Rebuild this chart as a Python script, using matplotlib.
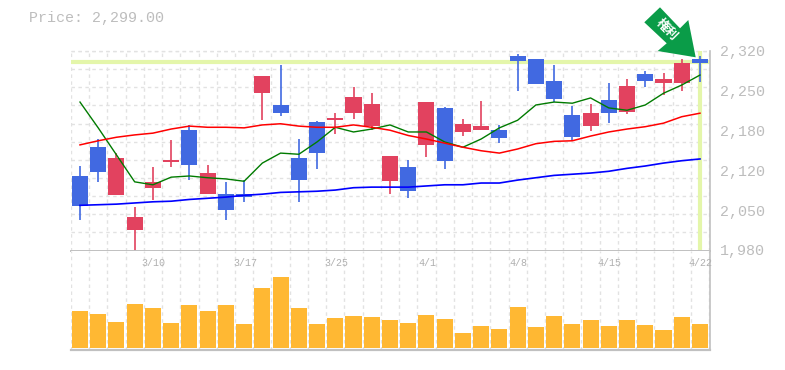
import numpy as np
import matplotlib
matplotlib.use("Agg")
import matplotlib.pyplot as plt
from matplotlib.patches import Polygon
from matplotlib.transforms import blended_transform_factory

# Daily prices
opens = [2107, 2156, 2075, 2015, 2087, 2131, 2185, 2076, 2076, 2076, 2248, 2228, 2138, 2199, 2202, 2214, 2192, 2098,
         2122, 2160, 2223, 2182, 2185, 2185, 2311, 2306, 2269, 2211, 2192, 2236, 2216, 2281, 2265, 2265, 2306]
closes = [2056, 2114, 2138, 2037, 2097, 2134, 2126, 2112, 2049, 2071, 2277, 2214, 2100, 2146, 2206, 2242, 2230, 2141,
          2081, 2233, 2133, 2196, 2192, 2172, 2303, 2264, 2238, 2173, 2214, 2214, 2260, 2269, 2272, 2300, 2299]
highs = [2124, 2170, 2146, 2054, 2122, 2168, 2194, 2126, 2097, 2100, 2277, 2296, 2170, 2201, 2214, 2259, 2248, 2141,
         2134, 2233, 2225, 2204, 2235, 2194, 2315, 2306, 2296, 2226, 2230, 2265, 2272, 2286, 2282, 2306, 2311]
lows = [2032, 2097, 2075, 1980, 2066, 2122, 2100, 2076, 2032, 2063, 2202, 2209, 2063, 2119, 2179, 2204, 2185, 2076,
        2069, 2139, 2119, 2175, 2185, 2163, 2252, 2264, 2233, 2167, 2184, 2197, 2213, 2259, 2245, 2252, 2267]

# Moving averages
ma_short = [2233, 2189, 2143, 2097, 2092, 2105, 2107, 2104, 2102, 2098, 2129, 2146, 2144, 2165, 2190, 2182, 2187, 2194,
            2182, 2182, 2165, 2156, 2170, 2189, 2202, 2228, 2233, 2231, 2240, 2223, 2219, 2228, 2248, 2262, 2279]
ma_mid = [2160, 2167, 2173, 2177, 2180, 2187, 2192, 2190, 2190, 2189, 2194, 2196, 2192, 2190, 2190, 2194, 2190, 2185,
          2176, 2170, 2163, 2156, 2150, 2146, 2153, 2162, 2166, 2167, 2175, 2182, 2187, 2191, 2197, 2208, 2214]
ma_long = [2057, 2058, 2059, 2061, 2063, 2064, 2067, 2069, 2071, 2074, 2076, 2079, 2080, 2081, 2083, 2087, 2088, 2088,
           2088, 2090, 2092, 2092, 2095, 2095, 2100, 2104, 2108, 2110, 2112, 2115, 2120, 2124, 2129, 2133, 2136]

volumes = [370, 340, 260, 440, 400, 250, 430, 370, 430, 240, 600, 710, 400, 240, 300, 320, 310, 280,
           250, 330, 290, 150, 220, 190, 410, 210, 320, 240, 280, 220, 280, 230, 180, 310, 240]

price_labels = ['2,320', '2,250', '2,180', '2,120', '2,050', '1,980']
date_idx = [4, 9, 14, 19, 24, 29, 34]
date_labels = ['3/10', '3/17', '3/25', '4/1', '4/8', '4/15', '4/22']
last_price = 2299

UP = '#e2425f'
DOWN = '#4169e1'
GRID = '#e2e2e2'
EDGE = '#c0c0c0'
TEXT = '#bdbdbd'
MARK = '#e4f6aa'
FONT = 'Liberation Mono'
DASH = (0, (2.5, 2.5))

W, H = 785, 370
fig = plt.figure(figsize=(W / 100, H / 100), dpi=100)


def axes_px(x0, y0, x1, y1):
    return fig.add_axes([x0 / W, 1 - y1 / H, (x1 - x0) / W, (y1 - y0) / H])


ax = axes_px(70.5, 51, 710, 250.5)
ax_vol = axes_px(70.5, 250.5, 710, 350)
x = np.arange(len(opens))

for a in (ax, ax_vol):
    a.set_xlim(-0.52, 34.55)
    a.set_xticks(x[:-1] + 0.5)
    a.tick_params(length=0, labelbottom=False, labelleft=False)
    a.grid(axis='x', color=GRID, linestyle=DASH, linewidth=1.0)
    a.set_axisbelow(True)
    a.axvline(-0.5, color=GRID, linestyle=DASH, linewidth=1.0, zorder=0.5)
    a.axvline(34.5, color=GRID, linestyle=DASH, linewidth=1.0, zorder=0.5)
    for s in a.spines.values():
        s.set_visible(False)
    a.spines['right'].set_visible(True)
    a.spines['right'].set_color(EDGE)
    a.spines['right'].set_linewidth(1.2)

ax.set_ylim(1980, 2320)
ax.set_yticks(np.linspace(1980, 2320, 12))
ax.grid(axis='y', color=GRID, linestyle=DASH, linewidth=1.0)
ax.axhline(2320, color=GRID, linestyle=DASH, linewidth=1.0, zorder=0.5, clip_on=False)
ax.spines['bottom'].set_visible(True)
ax.spines['bottom'].set_color(EDGE)
ax.spines['bottom'].set_linewidth(1.4)

# Last price marker
ax.axhline(2301, color=MARK, linewidth=3, zorder=1)
ax.axvline(x[-1], color=MARK, linewidth=3, zorder=1)

# Candles
for i in x:
    color = UP if closes[i] >= opens[i] else DOWN
    ax.plot([i, i], [lows[i], highs[i]], color=color, linewidth=1.2, zorder=2, solid_capstyle='butt', clip_on=False)
    ax.bar(i, abs(closes[i] - opens[i]), bottom=min(opens[i], closes[i]), width=0.88, color=color, zorder=2)

ax.plot(x, ma_short, color='#007b00', linewidth=1.0, zorder=3)
ax.plot(x, ma_mid, color='#ff0000', linewidth=1.1, zorder=3)
ax.plot(x, ma_long, color='#0000ff', linewidth=1.2, zorder=3)

# Volume
ax_vol.set_ylim(-20, 975)
ax_vol.bar(x, volumes, width=0.88, color='#ffb833', zorder=2)
ax_vol.spines['bottom'].set_visible(True)
ax_vol.spines['bottom'].set_color(EDGE)
ax_vol.spines['bottom'].set_linewidth(1.6)

for i, lab in zip(date_idx, date_labels):
    ax_vol.text(i + 0.05, 855, lab, ha='center', va='center', fontsize=7.2, family=FONT, color='#b0b0b0', zorder=3)

# Price labels are evenly spaced, values rounded to tens
label_tf = blended_transform_factory(fig.transFigure, ax.transAxes)
for frac, lab in zip(np.linspace(1, 0, len(price_labels)), price_labels):
    ax.text(720 / W, frac - 0.005, lab, transform=label_tf, ha='left', va='center', fontsize=10.8, family=FONT,
            color=TEXT, clip_on=False)

fig.text(29 / W, 1 - 18 / H, f'Price: {last_price:,.2f}', ha='left', va='center', fontsize=10.8, family=FONT, color=TEXT)

# Arrow badge
arrow_px = [(660, 7.3), (644.3, 22.3), (666.7, 43.3), (657.7, 51), (695.7, 57.3), (688.3, 20), (680, 28.3)]
fig.add_artist(Polygon([(px / W, 1 - py / H) for px, py in arrow_px], closed=True, transform=fig.transFigure,
                       facecolor='#0a9c48', edgecolor='none', zorder=5))
fig.text(666.5 / W, 1 - 29.5 / H, '権利', rotation=-45, rotation_mode='anchor', ha='center', va='center', fontsize=9,
         weight='bold', color='white', family=['Noto Sans CJK JP', 'DejaVu Sans'], zorder=6)

fig.savefig('out.png', dpi=100)
